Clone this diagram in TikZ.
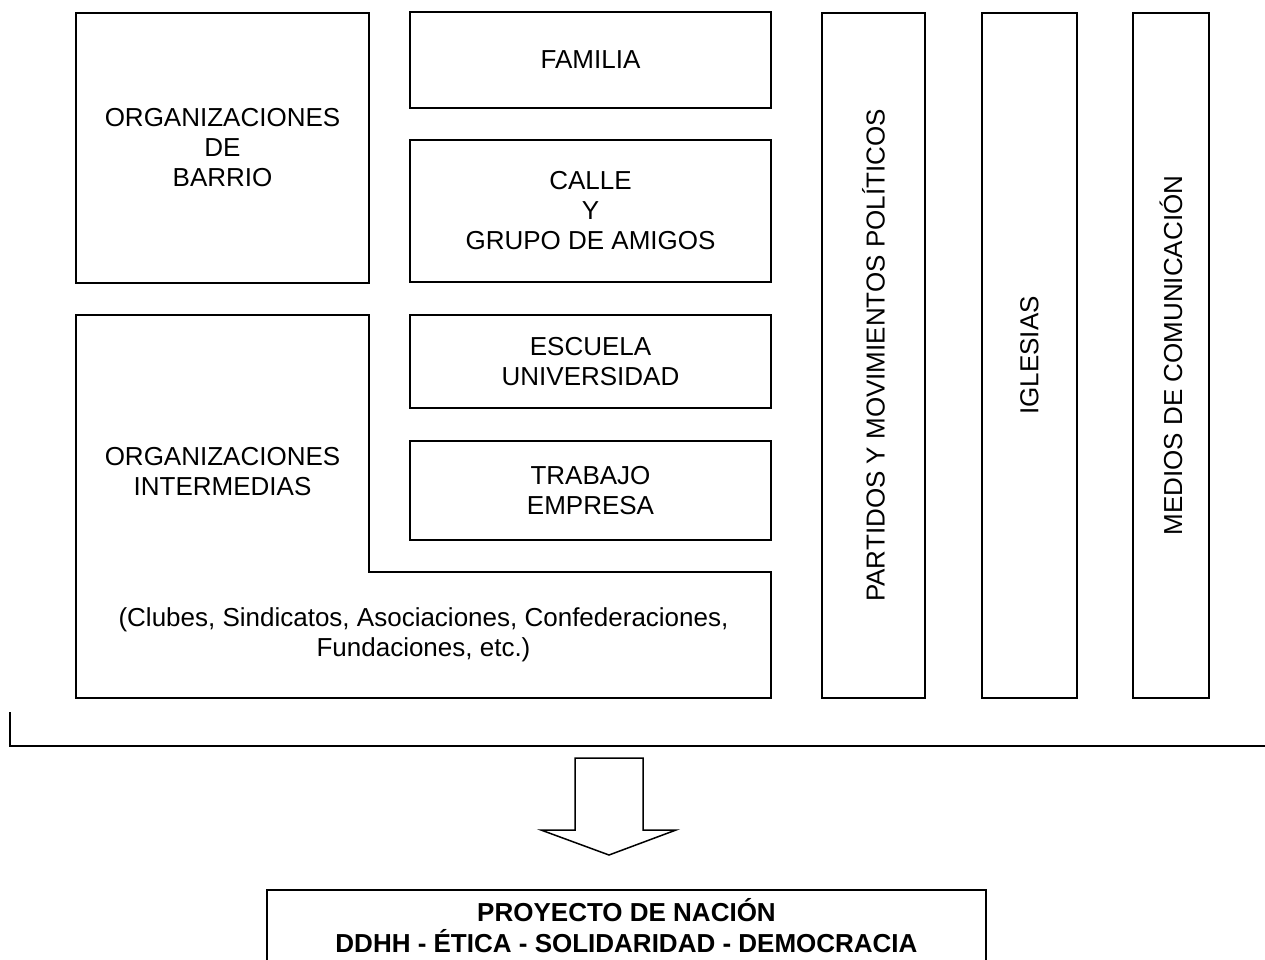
\documentclass[tikz,border=0pt]{standalone}
\usepackage{fontspec}
\setmainfont{Liberation Sans}
\usetikzlibrary{positioning}
\definecolor{framecolor}{HTML}{000000}
\definecolor{textcolor}{HTML}{000000}
\newcommand{\pagewidth}{1265}
\newcommand{\pageheight}{959}

\tikzset{
  block/.style={draw=framecolor, line width=2pt, inner sep=0pt, align=center,
    text=textcolor, font=\fontsize{26}{30}\selectfont},
  plain/.style={inner sep=0pt, align=center, text=textcolor,
    font=\fontsize{26}{30}\selectfont},
}

\begin{document}
\begin{tikzpicture}[x=1pt, y=-1pt]
  \useasboundingbox (0,0) rectangle (\pagewidth,\pageheight);

  % === LEFT COLUMN ===
  \node[block, minimum width=293pt, minimum height=270pt] (barrio) at (222.5,147.5)
    {ORGANIZACIONES\\DE\\BARRIO};

  % L-shaped frame of the intermediate organizations
  \draw[framecolor, line width=2pt] (76,315) -- (369,315) -- (369,572) -- (771,572)
    -- (771,698) -- (76,698) -- cycle;
  \node[plain] (intermedias) at (222.5,472) {ORGANIZACIONES\\INTERMEDIAS};
  \node[plain] (ejemplos) at (423.5,635)
    {(Clubes, Sindicatos, Asociaciones, Confederaciones,\\Fundaciones, etc.)};

  % === MIDDLE COLUMN ===
  \node[block, minimum width=361pt, minimum height=96pt] (familia) at (590.5,60) {FAMILIA};
  \node[block, minimum width=361pt, minimum height=142pt] (calle) at (590.5,211)
    {CALLE\\Y\\GRUPO DE AMIGOS};
  \node[block, minimum width=361pt, minimum height=93pt] (escuela) at (590.5,361.5)
    {ESCUELA\\UNIVERSIDAD};
  \node[block, minimum width=361pt, minimum height=99pt] (trabajo) at (590.5,490.5)
    {TRABAJO\\EMPRESA};

  % === VERTICAL COLUMNS ===
  \node[block, rotate=90, minimum width=685pt, minimum height=103pt] (partidos) at (873.5,355.5)
    {PARTIDOS Y MOVIMIENTOS POLÍTICOS};
  \node[block, rotate=90, minimum width=685pt, minimum height=95pt] (iglesias) at (1029.5,355.5)
    {IGLESIAS};
  \node[block, rotate=90, minimum width=685pt, minimum height=76pt] (medios) at (1171,355.5)
    {MEDIOS DE COMUNICACIÓN};

  % === BRACKET ===
  \coordinate (bracketstart) at (10,712);
  \coordinate (bracketend) at (\pagewidth,746);
  \draw[framecolor, line width=2pt] (bracketstart) |- (bracketend);

  % === BLOCK ARROW ===
  \draw[framecolor, line width=1.5pt, line join=miter] (575,758) -- (643,758) -- (643,830)
    -- (676,830) -- (609,855) -- (541,830) -- (575,830) -- cycle;

  % === RESULT BOX (runs off the page) ===
  \draw[framecolor, line width=2pt] (267,960) |- (986,890) -- (986,960);
  \node[plain, font=\bfseries\fontsize{26}{31}\selectfont] (proyecto) at (626.5,925.5)
    {PROYECTO DE NACIÓN\\DDHH - ÉTICA - SOLIDARIDAD - DEMOCRACIA};
\end{tikzpicture}
\end{document}
